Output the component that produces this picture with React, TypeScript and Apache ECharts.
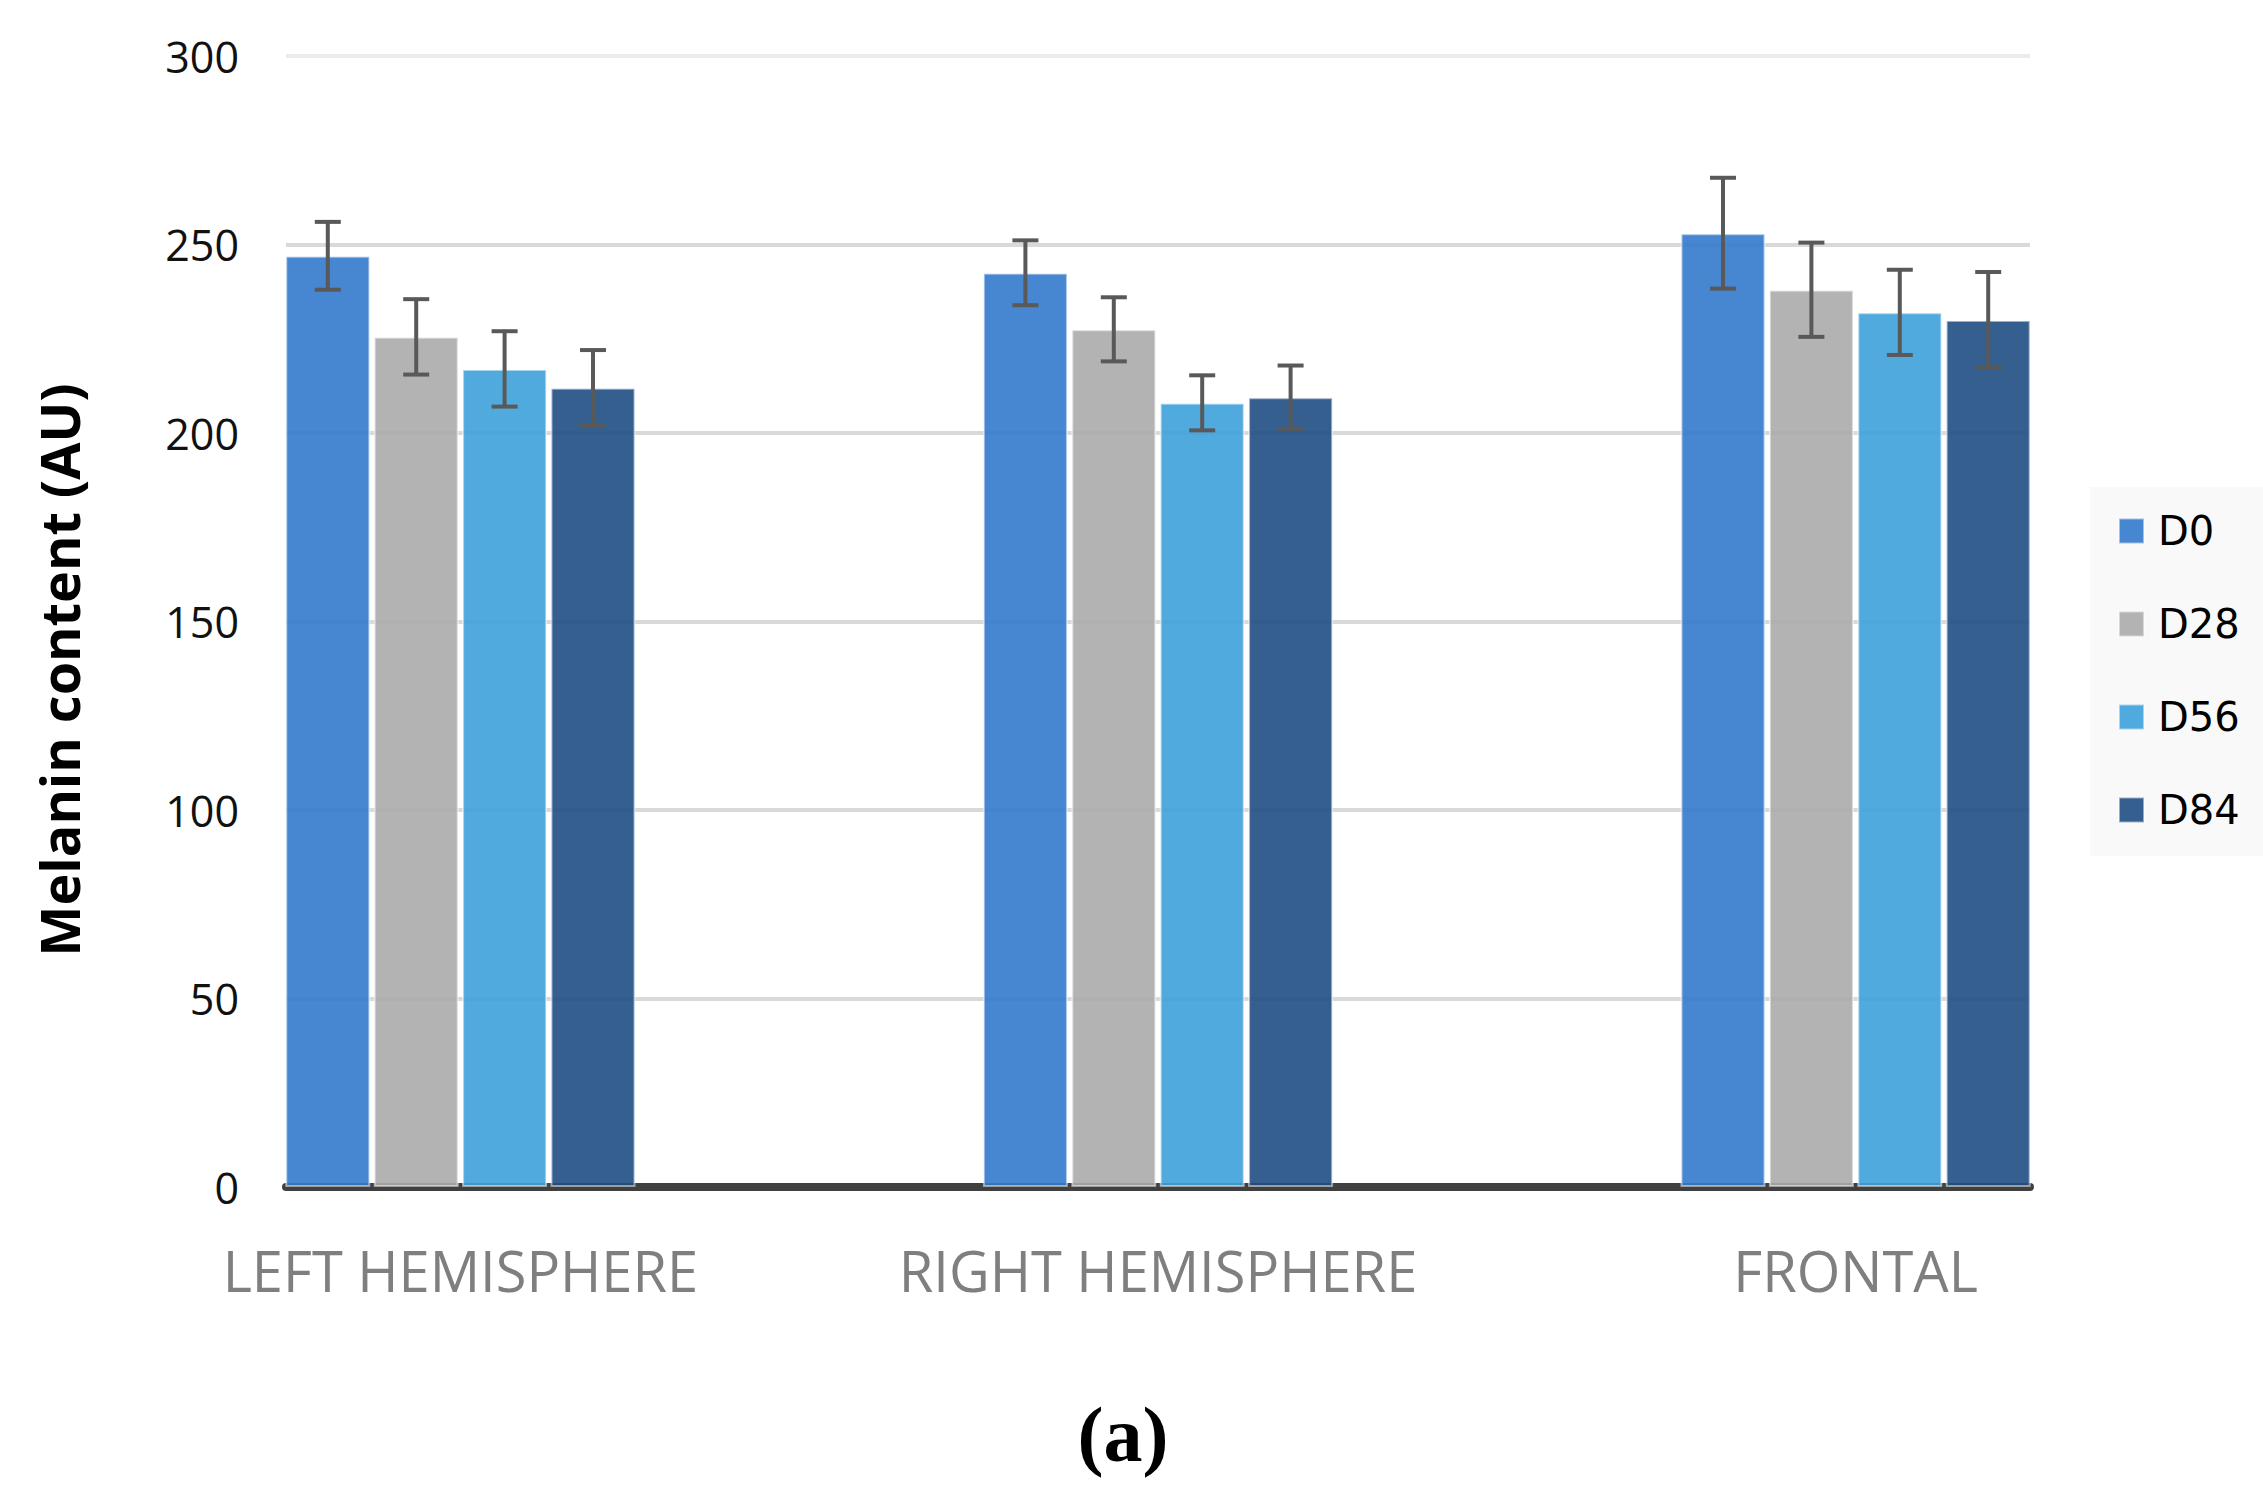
import React, { useEffect, useRef } from "react";
import * as echarts from "echarts";

const categories = ["LEFT HEMISPHERE", "RIGHT HEMISPHERE", "FRONTAL"];
const seriesNames = ["D0", "D28", "D56", "D84"];
const d0 = [247, 242.5, 253];
const d28 = [225.5, 227.5, 238];
const d56 = [217, 208, 232];
const d84 = [212, 209.5, 230];
const d0Err = [9, 8.6, 14.7];
const d28Err = [10, 8.5, 12.5];
const d56Err = [10, 7.3, 11.3];
const d84Err = [10, 8.4, 12.7];
const yTicks = [0, 50, 100, 150, 200, 250, 300];

const seriesValues = [d0, d28, d56, d84];
const seriesErrors = [d0Err, d28Err, d56Err, d84Err];
const colors = ["rgb(51,121,203)", "rgb(171,171,171)", "rgb(62,161,218)", "rgb(31,78,131)"];

const BAR_W = 85;
const GAP = 0.04;

export default function App() {
  const ref = useRef<HTMLDivElement>(null);
  useEffect(() => {
    if (!ref.current) return;
    document.body.style.margin = "0";
    const chart = echarts.init(ref.current, null, { renderer: "svg" });
    const step = BAR_W * (1 + GAP);
    const errData: any[] = [];
    seriesValues.forEach((vals, si) => {
      vals.forEach((v, ci) => {
        errData.push([ci, v, seriesErrors[si][ci], si]);
      });
    });
    const option: any = {
      animation: false,
      backgroundColor: "#ffffff",
      grid: { left: 286, right: 233, top: 56, bottom: 308 },
      legend: {
        orient: "vertical",
        left: 2090,
        top: 487,
        data: seriesNames,
        icon: "rect",
        itemWidth: 25,
        itemHeight: 25,
        itemGap: 47,
        backgroundColor: "#f9f9f9",
        padding: [21, 26, 23, 28],
        textStyle: {
          fontFamily: "DejaVu Sans",
          fontSize: 40,
          color: "#000000",
          lineHeight: 46,
          padding: [0, 0, 0, 9],
        },
      },
      xAxis: {
        type: "value",
        min: -0.25,
        max: 2.25,
        splitLine: { show: false },
        axisTick: { show: false },
        axisLine: { show: true, lineStyle: { color: "#404040", width: 8 } },
        axisLabel: {
          customValues: [0, 1, 2],
          formatter: (v: number) => categories[Math.round(v)] ?? "",
          fontFamily: "Open Sans",
          fontSize: 56,
          color: "#7f7f7f",
          margin: 55,
        },
      },
      yAxis: {
        type: "value",
        min: 0,
        max: 300,
        interval: 50,
        axisLine: { show: false },
        axisTick: { show: false },
        axisLabel: {
          fontFamily: "Open Sans",
          fontSize: 43,
          color: "#111111",
          margin: 47,
          formatter: (v: number) => (yTicks.includes(v) ? String(v) : ""),
        },
        splitLine: {
          show: true,
          lineStyle: {
            color: ["#d9d9d9", "#d9d9d9", "#d9d9d9", "#d9d9d9", "#d9d9d9", "#d9d9d9", "#ececec"],
            width: 4,
          },
        },
      },
      graphic: [
        {
          type: "text",
          x: 59,
          y: 670,
          rotation: Math.PI / 2,
          style: {
            text: "Melanin content (AU)",
            fontFamily: "Open Sans",
            fontWeight: "bold",
            fontSize: 54,
            fill: "#000000",
            textAlign: "center",
            textVerticalAlign: "middle",
          },
        },
        {
          type: "text",
          x: 1123,
          y: 1434,
          style: {
            text: "(a)",
            fontFamily: "Liberation Serif",
            fontWeight: "bold",
            fontSize: 78,
            fill: "#000000",
            textAlign: "center",
            textVerticalAlign: "middle",
          },
        },
      ],
      series: [
        ...seriesNames.map((name, si) => ({
          name,
          type: "bar",
          barWidth: BAR_W,
          barGap: GAP * 100 + "%",
          data: seriesValues[si].map((v, ci) => [ci, v]),
          itemStyle: {
            color: colors[si],
            opacity: 0.9,
            borderColor: "rgba(255,255,255,0.55)",
            borderWidth: 2,
          },
          z: 2,
        })),
        {
          type: "custom",
          name: "errors",
          z: 5,
          data: errData,
          renderItem: (params: any, api: any) => {
            const ci = api.value(0);
            const v = api.value(1);
            const e = api.value(2);
            const si = api.value(3);
            const base = api.coord([ci, v]);
            const x = base[0] + (si - 1.5) * step;
            const yt = api.coord([ci, v + e])[1];
            const yb = api.coord([ci, v - e])[1];
            const half = 13;
            const st = { stroke: "#595959", lineWidth: 4 };
            return {
              type: "group",
              children: [
                { type: "line", shape: { x1: x, y1: yt, x2: x, y2: yb }, style: st },
                { type: "line", shape: { x1: x - half, y1: yt, x2: x + half, y2: yt }, style: st },
                { type: "line", shape: { x1: x - half, y1: yb, x2: x + half, y2: yb }, style: st },
              ],
            };
          },
        },
      ],
    };
    chart.setOption(option);
    return () => chart.dispose();
  }, []);
  return (
    <div
      ref={ref}
      style={{ position: "fixed", left: 0, top: 0, width: 2263, height: 1495 }}
    />
  );
}
